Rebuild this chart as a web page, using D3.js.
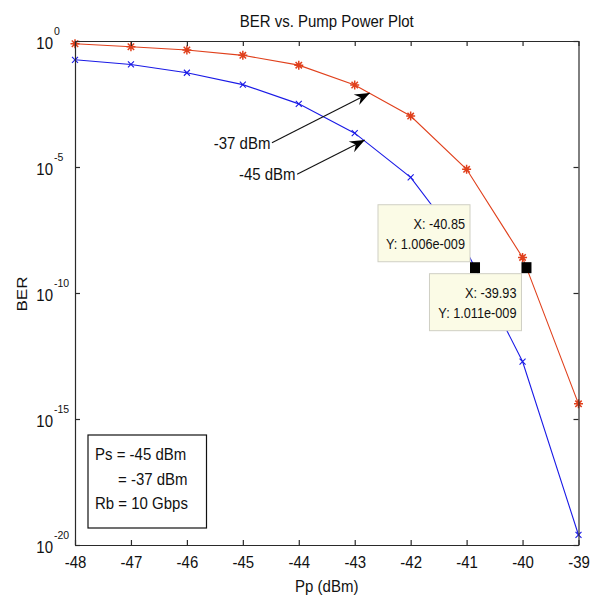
<!DOCTYPE html>
<html>
<head>
<meta charset="utf-8">
<script src="https://cdn.jsdelivr.net/npm/d3@7"></script>
<style>
  html, body { margin: 0; padding: 0; background: #fff; }
  svg { display: block; }
  text { font-family: "Liberation Sans", Arial, sans-serif; fill: #111; }
</style>
</head>
<body>
<svg id="chart" width="595" height="600"></svg>
<script>
// Pump power sweep (dBm)
const pumpPower = [-48, -47, -46, -45, -44, -43, -42, -41, -40, -39];
// BER for the two signal powers
const berPs37 = [7.8e-1, 5.9e-1, 4.4e-1, 2.7e-1, 1.1e-1, 1.8e-2, 1.05e-3, 8.1e-6, 2.58e-9, 4.0e-15];
const berPs45 = [1.8e-1, 1.17e-1, 5.5e-2, 1.86e-2, 3.2e-3, 2.2e-4, 3.9e-6, 4.57e-9, 1.9e-13, 2.5e-20];
// Axis ticks
const xTickValues = [-48, -47, -46, -45, -44, -43, -42, -41, -40, -39];
const yTickExponents = [0, -5, -10, -15, -20];
// Data tips
const dataTips = [
  { x: -40.85, y: 1.006e-9, label: ["X: -40.85", "Y: 1.006e-009"], side: "upperLeft" },
  { x: -39.93, y: 1.011e-9, label: ["X: -39.93", "Y: 1.011e-009"], side: "lowerLeft" }
];
// Curve annotations (tail and head in data units)
const arrowNotes = [
  { text: "-37 dBm", from: [-44.48, 9.1e-5], to: [-42.73, 8.7e-3] },
  { text: "-45 dBm", from: [-44.03, 5.2e-6], to: [-42.82, 1.17e-4] }
];
const infoLines = ["Ps = -45 dBm", "= -37 dBm", "Rb = 10 Gbps"];

const svg = d3.select("#chart");
const plotL = 75, plotR = 578.5, plotT = 41, plotB = 545;

const x = d3.scaleLinear().domain([-48, -39]).range([plotL, plotR]);
const y = d3.scaleLog().domain([1, 1e-20]).range([plotT, plotB]);

const axisColor = "#2a2a2a";
const red = "#e0401c";
const blue = "#1a1ae6";
const fs = 15;
const stretch = 1.1;

// Text helper: slightly tall glyphs, anchored at (tx, ty)
function label(parent, tx, ty, s, size, anchor, rot) {
  const tr = `translate(${tx},${ty}) scale(1,${stretch})` + (rot ? ` rotate(${rot})` : "");
  return parent.append("text").attr("transform", tr)
    .attr("text-anchor", anchor || "start").attr("font-size", size)
    .attr("fill", "#111").attr("font-family", '"Liberation Sans", Arial, sans-serif')
    .text(s);
}

// Curves
const line = d3.line().x(d => x(d[0])).y(d => y(d[1]));
function drawSeries(values, color, marker) {
  const pts = pumpPower.map((p, i) => [p, values[i]]);
  svg.append("path").datum(pts).attr("d", line)
    .attr("fill", "none").attr("stroke", color).attr("stroke-width", 1.1);
  const g = svg.append("g").attr("stroke", color).attr("stroke-width", 1.1).attr("fill", "none");
  pts.forEach(d => {
    const cx = x(d[0]), cy = y(d[1]);
    if (marker === "star") {
      const r = 4.5, s = 3.2;
      g.append("path").attr("d",
        `M${cx - r},${cy}L${cx + r},${cy}M${cx},${cy - r}L${cx},${cy + r}` +
        `M${cx - s},${cy - s}L${cx + s},${cy + s}M${cx - s},${cy + s}L${cx + s},${cy - s}`)
        .attr("stroke-width", 1.5);
    } else {
      const s = 3;
      g.append("path").attr("d",
        `M${cx - s},${cy - s}L${cx + s},${cy + s}M${cx - s},${cy + s}L${cx + s},${cy - s}`);
    }
  });
}
drawSeries(berPs37, red, "star");
drawSeries(berPs45, blue, "x");

// Axes (ticks pointing inward on all four sides)
const xb = svg.append("g").attr("transform", `translate(0,${plotB})`)
  .call(d3.axisBottom(x).tickValues(xTickValues).tickSizeInner(-5).tickSizeOuter(0).tickFormat(""));
const xt = svg.append("g").attr("transform", `translate(0,${plotT})`)
  .call(d3.axisTop(x).tickValues(xTickValues).tickSizeInner(-5).tickSizeOuter(0).tickFormat(""));
const yTicks = yTickExponents.map(e => Math.pow(10, e));
const yl = svg.append("g").attr("transform", `translate(${plotL},0)`)
  .call(d3.axisLeft(y).tickValues(yTicks).tickSizeInner(-5).tickSizeOuter(0).tickFormat(""));
const yr = svg.append("g").attr("transform", `translate(${plotR},0)`)
  .call(d3.axisRight(y).tickValues(yTicks).tickSizeInner(-5).tickSizeOuter(0).tickFormat(""));

[xb, xt, yl, yr].forEach(a => {
  a.select(".domain").attr("stroke", axisColor).attr("stroke-width", 1.2);
  a.selectAll(".tick line").attr("stroke", axisColor).attr("stroke-width", 1.2);
  a.selectAll(".tick text").remove();
});

// Bottom tick labels
xb.selectAll(".tick").each(function (d) {
  label(d3.select(this), 0, 23, String(d), fs, "middle");
});

// Log tick labels: 10 with superscript exponent
yl.selectAll(".tick").each(function (d) {
  const t = d3.select(this);
  const e = Math.round(Math.log10(d));
  label(t, 53 - plotL, 7, "10", fs, "end");
  label(t, 54 - plotL, -6.5, String(e), 10.5, "start");
});

// Title and axis labels
label(svg, (plotL + plotR) / 2, 26.5, "BER vs. Pump Power Plot", fs, "middle");
label(svg, (plotL + plotR) / 2, 592, "Pp (dBm)", fs, "middle");
label(svg, 27, (plotT + plotB) / 2 + 1, "BER", 15.5, "middle", -90);

// Info box
const info = svg.append("g");
info.append("rect").attr("x", 88).attr("y", 435).attr("width", 118.5).attr("height", 93)
  .attr("fill", "#fff").attr("stroke", "#111").attr("stroke-width", 1.2);
label(info, 95, 460, infoLines[0], fs);
label(info, 118, 485, infoLines[1], fs);
label(info, 95, 509, infoLines[2], fs);

// Arrow annotations
function arrowHead(tx, ty, fx, fy) {
  const ang = Math.atan2(ty - fy, tx - fx);
  const L = 15, W = 6, N = 10;
  const ca = Math.cos(ang), sa = Math.sin(ang);
  const bx = tx - L * ca, by = ty - L * sa;
  const nx = tx - N * ca, ny = ty - N * sa;
  const p1 = [bx - W * sa, by + W * ca], p2 = [bx + W * sa, by - W * ca];
  return `M${tx},${ty}L${p1[0]},${p1[1]}L${nx},${ny}L${p2[0]},${p2[1]}Z`;
}
arrowNotes.forEach(a => {
  const fx = x(a.from[0]), fy = y(a.from[1]);
  const tx = x(a.to[0]), ty = y(a.to[1]);
  svg.append("line").attr("x1", fx).attr("y1", fy).attr("x2", tx).attr("y2", ty)
    .attr("stroke", "#111").attr("stroke-width", 1.1);
  svg.append("path").attr("d", arrowHead(tx, ty, fx, fy)).attr("fill", "#000");
  label(svg, fx - 1.5, fy + 6, a.text, fs, "end");
});

// Data tips
dataTips.forEach(t => {
  const mx = x(t.x), my = y(t.y);
  const w = 92, h = 57;
  let bx, by;
  if (t.side === "upperLeft") { bx = mx - 5 - w; by = my - 6 - h; }
  else { bx = mx - 5 - w; by = my + 6; }
  const g = svg.append("g");
  g.append("rect").attr("x", bx).attr("y", by).attr("width", w).attr("height", h)
    .attr("fill", "#fbfbe6").attr("stroke", "#cfcfc4").attr("stroke-width", 1);
  label(g, bx + w - 5, by + 24, t.label[0], 12.7, "end");
  label(g, bx + w - 5, by + 44, t.label[1], 12.7, "end");
  g.append("rect").attr("x", mx - 5).attr("y", my - 5.5).attr("width", 10).attr("height", 11)
    .attr("fill", "#000");
});
</script>
</body>
</html>
